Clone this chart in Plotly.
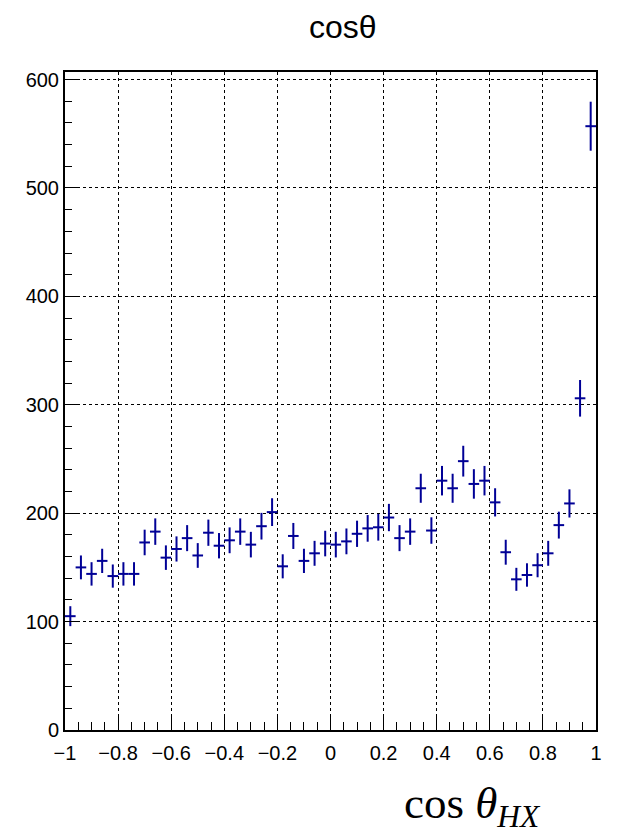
import plotly.graph_objects as go

# bin centres of a 50-bin histogram on [-1, 1]
bin_low = -1.0
bin_width = 0.04
n_bins = 50
x_centers = [round(bin_low + bin_width * (i + 0.5), 4) for i in range(n_bins)]

counts = [105, 150, 144, 156, 142, 144, 144, 173, 183, 159,
          167, 177, 161, 182, 170, 175, 183, 171, 188, 201,
          151, 179, 156, 163, 172, 171, 174, 181, 186, 187,
          196, 177, 183, 223, 184, 230, 223, 248, 227, 230,
          210, 164, 139, 143, 152, 163, 189, 209, 306, 557]

errors = [9.2, 11.0, 10.8, 11.2, 10.7, 10.8, 10.8, 11.8, 12.2, 11.3,
          11.6, 12.0, 11.4, 12.1, 11.7, 11.9, 12.2, 11.8, 12.3, 12.8,
          11.1, 12.0, 11.2, 11.5, 11.8, 11.8, 11.9, 12.1, 12.3, 12.3,
          12.6, 12.0, 12.2, 13.4, 12.2, 13.6, 13.4, 14.2, 13.6, 13.6,
          13.0, 11.5, 10.6, 10.8, 11.1, 11.5, 12.4, 13.0, 16.9, 22.6]

x_tickvals = [-1, -0.8, -0.6, -0.4, -0.2, 0, 0.2, 0.4, 0.6, 0.8, 1]
x_ticktext = ["\u22121", "\u22120.8", "\u22120.6", "\u22120.4", "\u22120.2", "0",
              "0.2", "0.4", "0.6", "0.8", "1"]
y_tickvals = [0, 100, 200, 300, 400, 500, 600]
y_ticktext = ["0", "100", "200", "300", "400", "500", "600"]

line_col = "rgb(0,0,150)"

fig = go.Figure()
fig.add_trace(go.Scatter(
    x=x_centers, y=counts, mode="markers",
    marker=dict(size=1, color=line_col),
    error_y=dict(type="data", array=errors, color=line_col, thickness=2, width=0),
    error_x=dict(type="constant", value=bin_width / 2, color=line_col, thickness=2, width=0),
    showlegend=False,
))

L, R, T, B = 65, 25, 72, 109
W, H = 621, 839
pw, ph = W - L - R, H - T - B
tick_font = dict(family="Liberation Sans, Arial, sans-serif", size=20, color="black")

fig.update_layout(
    width=W, height=H,
    margin=dict(l=L, r=R, t=T, b=B),
    paper_bgcolor="white", plot_bgcolor="white",
    font=dict(family="Liberation Sans, Arial, sans-serif", size=20, color="black"),
    xaxis=dict(
        range=[-1, 1], tickmode="array", tickvals=x_tickvals, ticktext=x_ticktext,
        tickfont=tick_font,
        ticks="inside", ticklen=16, tickwidth=1, tickcolor="black",
        showline=True, linecolor="black", linewidth=2, mirror=True,
        showgrid=True, gridcolor="black", griddash="dot", gridwidth=1,
        zeroline=False, ticklabelstandoff=4,
        minor=dict(dtick=0.05, ticks="inside", ticklen=8, tickcolor="black", showgrid=False),
    ),
    yaxis=dict(
        range=[0, 607], tickmode="array", tickvals=y_tickvals, ticktext=y_ticktext,
        tickfont=tick_font,
        ticks="inside", ticklen=14, tickwidth=1, tickcolor="black",
        showline=True, linecolor="black", linewidth=2, mirror=True,
        showgrid=True, gridcolor="black", griddash="dot", gridwidth=1,
        zeroline=False,
        minor=dict(dtick=20, ticks="inside", ticklen=7, tickcolor="black", showgrid=False),
    ),
    annotations=[
        dict(text="cos\u03b8", xref="paper", yref="paper",
             x=(343 - L) / pw, y=(H - B - 27) / ph, xanchor="center", yanchor="middle",
             showarrow=False, font=dict(family="Liberation Sans, Arial, sans-serif", size=32)),
        dict(text="cos <i>\u03b8</i><sub><i>HX</i></sub>", xref="paper", yref="paper",
             x=(543 - L) / pw, y=(H - B - 806) / ph, xanchor="right", yanchor="middle",
             showarrow=False, font=dict(family="Liberation Serif, serif", size=45)),
    ],
)

fig.write_html("out.html")
